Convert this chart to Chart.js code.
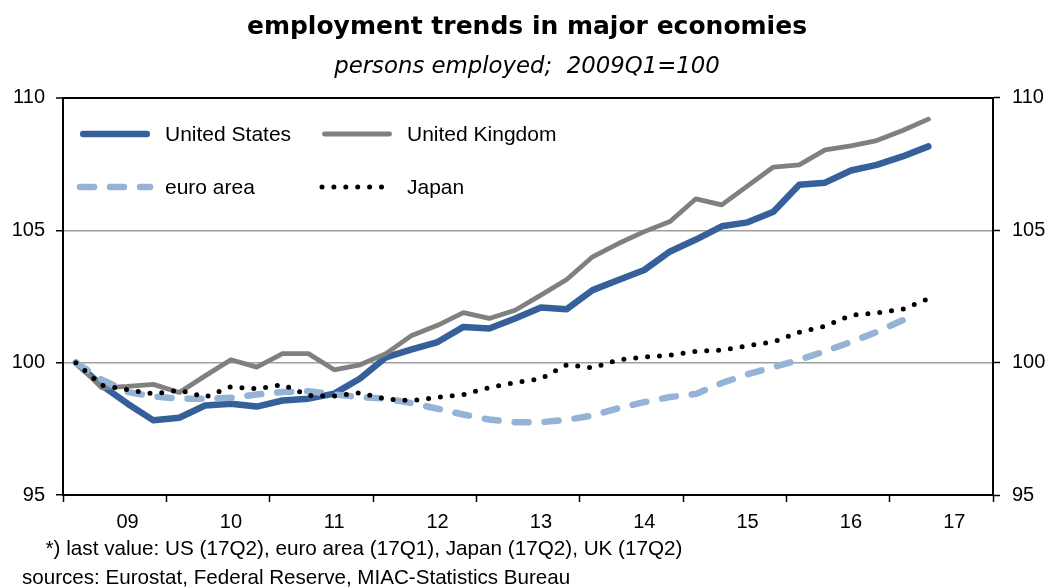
<!DOCTYPE html>
<html>
<head>
<meta charset="utf-8">
<title>employment trends in major economies</title>
<script src="https://cdn.jsdelivr.net/npm/chart.js@4.4.1/dist/chart.umd.min.js"></script>
<style>
    html, body { margin: 0; padding: 0; background: #fff; }
    #wrap { width: 1054px; height: 587px; position: relative; }
</style>
</head>
<body>
<div id="wrap"><canvas id="employmentChart"></canvas></div>
<script>
// quarterly index, 2009Q1 = 100
const years = ['09', '10', '11', '12', '13', '14', '15', '16', '17'];
const quarters = [];
years.forEach(y => ['Q1', 'Q2', 'Q3', 'Q4'].forEach(q => quarters.push(y + q)));

const yTicks = [95, 100, 105, 110];

// 2009Q1 .. 2017Q2
const usValues = [100.0, 99.14, 98.45, 97.82, 97.92, 98.38, 98.45, 98.34,
    98.57, 98.64, 98.83, 99.4, 100.2, 100.5, 100.78, 101.35,
    101.29, 101.67, 102.08, 102.02, 102.74, 103.12, 103.5, 104.2,
    104.65, 105.15, 105.3, 105.7, 106.72, 106.8, 107.26, 107.47,
    107.79, 108.17];
const ukValues = [100.0, 99.05, 99.1, 99.18, 98.87, 99.5, 100.11, 99.83,
    100.34, 100.34, 99.73, 99.92, 100.34, 101.03, 101.41, 101.89,
    101.67, 101.98, 102.55, 103.14, 104.0, 104.5, 104.95, 105.33,
    106.19, 105.96, 106.68, 107.39, 107.47, 108.04, 108.19, 108.39,
    108.77, 109.2];
// 2009Q1 .. 2017Q1
const euroValues = [100.0, 99.36, 98.89, 98.72, 98.64, 98.64, 98.67, 98.8,
    98.89, 98.92, 98.8, 98.7, 98.64, 98.47, 98.26, 98.04,
    97.85, 97.75, 97.75, 97.84, 98.0, 98.28, 98.51, 98.7,
    98.82, 99.23, 99.56, 99.83, 100.11, 100.43, 100.78, 101.16,
    101.6];
// 2009Q1 .. 2017Q2
const japanValues = [100.0, 99.14, 98.98, 98.82, 98.96, 98.7, 99.09, 99.01,
    99.17, 98.76, 98.74, 98.86, 98.62, 98.56, 98.69, 98.79,
    99.06, 99.25, 99.39, 99.92, 99.8, 100.11, 100.21, 100.28,
    100.43, 100.47, 100.64, 100.78, 101.15, 101.38, 101.79, 101.88,
    102.02, 102.42];

const footnote = '*) last value: US (17Q2), euro area (17Q1), Japan (17Q2), UK (17Q2)';
const sources = 'sources: Eurostat, Federal Reserve, MIAC-Statistics Bureau';

const labelFont = { family: "'Liberation Sans', Arial, sans-serif", size: 20 };

// legend drawn inside the plot, two rows by two columns
const legendSlots = [
    { ds: 0, x: 80, y: 134 },
    { ds: 1, x: 322, y: 134 },
    { ds: 2, x: 80, y: 187 },
    { ds: 3, x: 322, y: 187 }
];

const insideLegend = {
    id: 'insideLegend',
    afterDatasetsDraw(chart) {
        const ctx = chart.ctx;
        ctx.save();
        legendSlots.forEach(slot => {
            const ds = chart.data.datasets[slot.ds];
            ctx.beginPath();
            ctx.setLineDash(ds.borderDash || []);
            ctx.lineCap = 'round';
            ctx.lineWidth = ds.borderWidth;
            ctx.strokeStyle = ds.borderColor;
            const half = ds.borderDash ? 0 : ds.borderWidth / 2;
            ctx.moveTo(slot.x + half, slot.y);
            ctx.lineTo(slot.x + 70 - half, slot.y);
            ctx.stroke();
            ctx.setLineDash([]);
            ctx.fillStyle = '#000';
            ctx.font = "21px 'Liberation Sans', Arial, sans-serif";
            ctx.textBaseline = 'middle';
            ctx.textAlign = 'left';
            ctx.fillText(ds.label, slot.x + 85, slot.y + 1);
        });
        ctx.restore();
    }
};

const notes = {
    id: 'notes',
    afterDraw(chart) {
        const ctx = chart.ctx;
        ctx.save();
        ctx.fillStyle = '#000';
        ctx.textBaseline = 'middle';
        ctx.font = "20.7px 'Liberation Sans', Arial, sans-serif";
        ctx.textAlign = 'center';
        ctx.fillText(footnote, 364, 549);
        ctx.font = "20.6px 'Liberation Sans', Arial, sans-serif";
        ctx.textAlign = 'left';
        ctx.fillText(sources, 22, 578);
        ctx.restore();
    }
};

new Chart(document.getElementById('employmentChart'), {
    type: 'line',
    data: {
        labels: quarters,
        datasets: [
            {
                label: 'United States',
                data: usValues,
                borderColor: '#36609a',
                borderWidth: 6.5,
                order: 3
            },
            {
                label: 'United Kingdom',
                data: ukValues,
                borderColor: '#808080',
                borderWidth: 4.8,
                order: 2
            },
            {
                label: 'euro area',
                data: euroValues,
                borderColor: '#95b3d7',
                borderWidth: 6.5,
                borderDash: [14, 16],
                order: 1
            },
            {
                label: 'Japan',
                data: japanValues,
                borderColor: '#000000',
                borderWidth: 5,
                borderDash: [0, 11.9],
                order: 0
            }
        ]
    },
    options: {
        responsive: true,
        maintainAspectRatio: false,
        animation: false,
        layout: { padding: 0 },
        elements: {
            point: { radius: 0, hoverRadius: 0 },
            line: { tension: 0, borderCapStyle: 'round', borderJoinStyle: 'round' }
        },
        plugins: {
            legend: { display: false },
            tooltip: { enabled: false },
            title: {
                display: true,
                text: 'employment trends in major economies',
                color: '#000',
                font: { family: "'DejaVu Sans', Verdana, sans-serif", size: 25, weight: 'bold' },
                padding: { top: 12, bottom: 11 }
            },
            subtitle: {
                display: true,
                text: 'persons employed;  2009Q1=100',
                color: '#000',
                font: { family: "'DejaVu Sans', Verdana, sans-serif", size: 22.8, style: 'italic' },
                padding: { top: 0, bottom: 17.6 }
            }
        },
        scales: {
            x: {
                type: 'category',
                offset: true,
                afterFit: scale => { scale.height = 92; },
                border: { display: true, color: '#000', width: 2 },
                grid: {
                    offset: true,
                    drawOnChartArea: false,
                    tickLength: 7,
                    tickWidth: 1.5,
                    tickColor: c => (c.index === undefined || c.index % 4 === 0) ? '#000' : 'rgba(0,0,0,0)'
                },
                ticks: {
                    autoSkip: false,
                    maxRotation: 0,
                    padding: 8,
                    color: '#000',
                    font: labelFont,
                    callback: (v, i) => i % 4 === 2 ? years[Math.floor(i / 4)] : ''
                }
            },
            y: {
                position: 'left',
                min: 95,
                max: 110,
                afterFit: scale => { scale.width = 63; },
                afterBuildTicks: scale => { scale.ticks = yTicks.map(v => ({ value: v })); },
                border: { display: true, color: '#000', width: 2 },
                grid: {
                    color: c => c.tick && c.tick.value === 110 ? '#000'
                        : (c.tick && c.tick.value === 95 ? 'rgba(0,0,0,0)' : '#a0a0a0'),
                    lineWidth: c => c.tick && c.tick.value === 110 ? 2 : 1.5,
                    tickLength: 7,
                    tickWidth: 1.5,
                    tickColor: '#000'
                },
                ticks: { padding: 11, color: '#000', font: labelFont }
            },
            y2: {
                position: 'right',
                min: 95,
                max: 110,
                afterFit: scale => { scale.width = 61; },
                afterBuildTicks: scale => { scale.ticks = yTicks.map(v => ({ value: v })); },
                border: { display: true, color: '#000', width: 2 },
                grid: {
                    drawOnChartArea: false,
                    tickLength: 7,
                    tickWidth: 1.5,
                    tickColor: '#000'
                },
                ticks: { padding: 12, color: '#000', font: labelFont }
            }
        }
    },
    plugins: [insideLegend, notes]
});
</script>
</body>
</html>
